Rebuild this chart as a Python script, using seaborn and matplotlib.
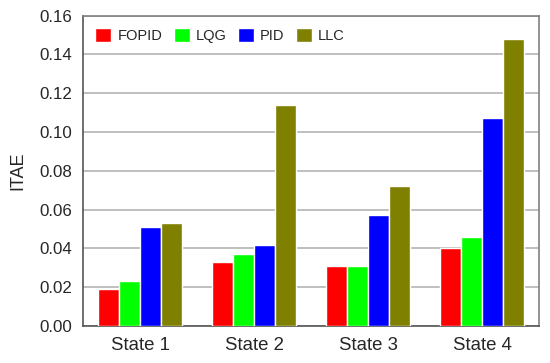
import pandas as pd
import matplotlib
matplotlib.use('Agg')
import matplotlib.pyplot as plt
import seaborn as sns

# values
states = ['State 1', 'State 2', 'State 3', 'State 4']
controllers = ['FOPID', 'LQG', 'PID', 'LLC']
fopid = [0.019, 0.033, 0.031, 0.040]
lqg = [0.023, 0.037, 0.031, 0.046]
pid = [0.051, 0.042, 0.057, 0.107]
llc = [0.053, 0.114, 0.072, 0.148]
colors = ['#ff0000', '#00ff00', '#0000ff', '#808000']

# long format for seaborn
df = pd.DataFrame({'State': states, 'FOPID': fopid, 'LQG': lqg, 'PID': pid, 'LLC': llc})
df = df.melt(id_vars='State', var_name='Controller', value_name='ITAE')

sns.set_style('white')
plt.rcParams['font.family'] = ['Liberation Sans', 'DejaVu Sans']

fig, ax = plt.subplots(figsize=(5.5, 3.63), dpi=100)
sns.barplot(data=df, x='State', y='ITAE', hue='Controller', hue_order=controllers,
            palette=colors, width=0.73, saturation=1, ax=ax, zorder=3)

ax.set_ylim(0, 0.16)
ax.set_yticks([0.00, 0.02, 0.04, 0.06, 0.08, 0.10, 0.12, 0.14, 0.16])
ax.set_yticklabels(['0.00', '0.02', '0.04', '0.06', '0.08', '0.10', '0.12', '0.14', '0.16'])
ax.yaxis.grid(True, color='#b4b4b4', linewidth=1.2, zorder=0)
ax.tick_params(axis='y', length=0, labelsize=12.2, pad=8)
ax.tick_params(axis='x', length=0, labelsize=13.4, pad=8)
ax.set_xlabel('')
ax.set_ylabel('ITAE', fontsize=13, labelpad=9)

for side in ['top', 'right']:
    ax.spines[side].set_color('#808080')
    ax.spines[side].set_linewidth(1.2)
for side in ['left', 'bottom']:
    ax.spines[side].set_color('#555555')
    ax.spines[side].set_linewidth(1.2)

leg = ax.legend(loc='upper left', ncol=4, frameon=False, fontsize=10.5,
                handlelength=1.1, handleheight=1.1, handletextpad=0.4,
                columnspacing=0.8, borderaxespad=0.45)

plt.subplots_adjust(left=0.151, right=0.98, top=0.957, bottom=0.102)
plt.savefig('out.png', dpi=100)
